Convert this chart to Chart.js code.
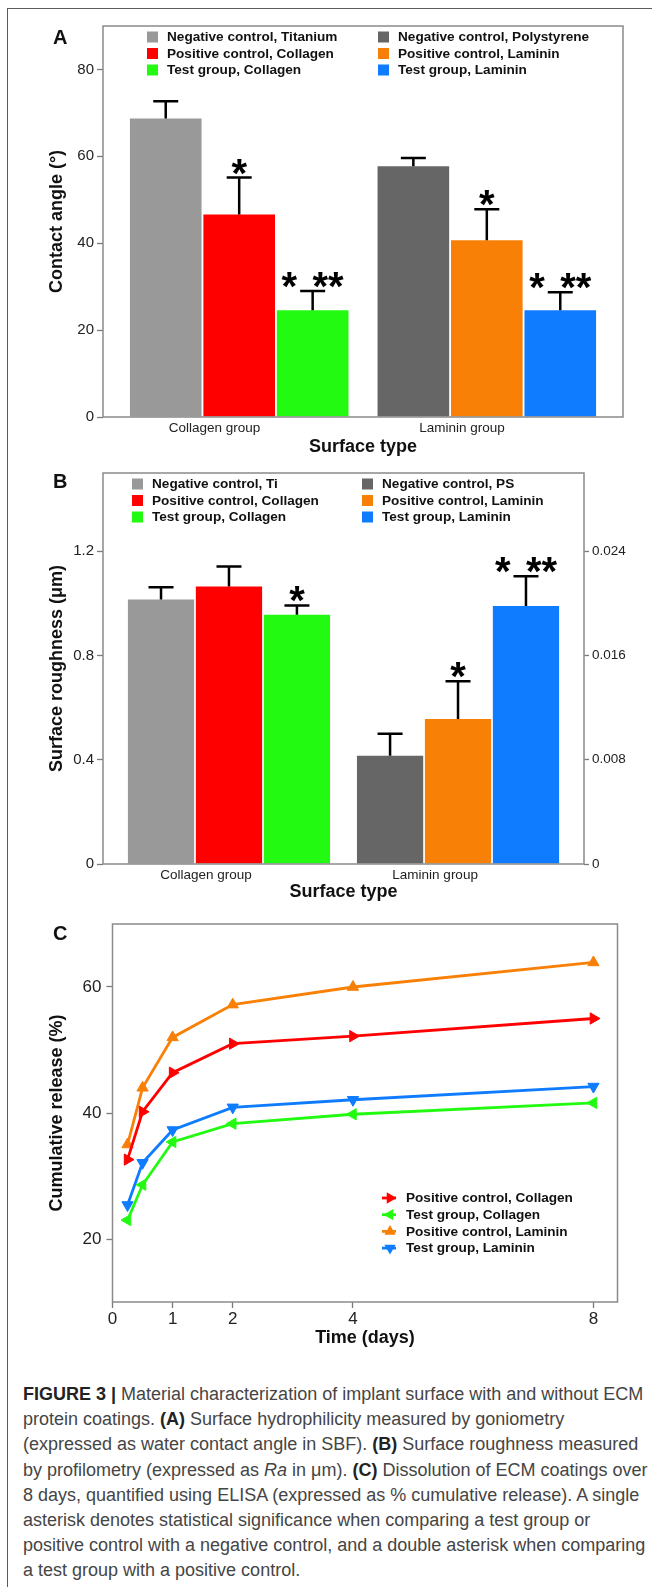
<!DOCTYPE html>
<html>
<head>
<meta charset="utf-8">
<title>Figure 3</title>
<script src="https://cdn.jsdelivr.net/npm/chart.js@4.4.1/dist/chart.umd.min.js"></script>
<style>
  html, body { margin: 0; padding: 0; background: #fff; }
  #figure { position: relative; width: 652px; height: 1587px; overflow: hidden; font-family: 'Liberation Sans', Arial, sans-serif; }
  .frame { position: absolute; left: 7px; top: 8px; width: 660px; height: 1600px; border-top: 1.6px solid #5c5c5c; border-left: 1.6px solid #5c5c5c; }
  .panel { position: absolute; left: 0; width: 652px; }
  .letter { position: absolute; font-weight: bold; font-size: 20px; line-height: 20px; color: #111; }
  .caption { position: absolute; left: 23px; top: 1382px; font-size: 18px; line-height: 25.2px; color: #454545; white-space: nowrap; }
  .caption b { color: #222; }
</style>
</head>
<body>
<div id="figure">
  <div class="frame"></div>
  <div class="panel" style="top:0;height:460px"><canvas id="chart-a" width="652" height="460"></canvas></div>
  <div class="panel" style="top:455px;height:450px"><canvas id="chart-b" width="652" height="450"></canvas></div>
  <div class="panel" style="top:905px;height:450px"><canvas id="chart-c" width="652" height="450"></canvas></div>
  <div class="letter" style="left:53px;top:27px">A</div>
  <div class="letter" style="left:53px;top:471px">B</div>
  <div class="letter" style="left:53px;top:923px">C</div>
  <div class="caption"><b>FIGURE 3 |</b> Material characterization of implant surface with and without ECM<br>protein coatings. <b>(A)</b> Surface hydrophilicity measured by goniometry<br>(expressed as water contact angle in SBF). <b>(B)</b> Surface roughness measured<br>by profilometry (expressed as <i>Ra</i> in μm). <b>(C)</b> Dissolution of ECM coatings over<br>8 days, quantified using ELISA (expressed as % cumulative release). A single<br>asterisk denotes statistical significance when comparing a test group or<br>positive control with a negative control, and a double asterisk when comparing<br>a test group with a positive control.</div>
</div>

<script>
'use strict'

// ---- datos comunes (paneles A y B) ----
var groups = ['Collagen group', 'Laminin group']

var colorsNeg = ['#999999', '#666666']
var colorsPos = ['#ff0000', '#f98007']
var colorsTest = ['#22fb11', '#0f7cff']

// ---- panel A: ángulo de contacto ----
var legendA = [
  ['Negative control, Titanium', 'Negative control, Polystyrene'],
  ['Positive control, Collagen', 'Positive control, Laminin'],
  ['Test group, Collagen', 'Test group, Laminin']
]
var angleTicks = [0, 20, 40, 60, 80]
var angleNeg = [68.7, 57.7]
var angleNegErr = [4.0, 1.9]
var anglePos = [46.6, 40.7]
var anglePosErr = [8.5, 7.1]
var angleTest = [24.6, 24.6]
var angleTestErr = [4.4, 4.1]
var angleStars = [['', ''], ['*', '*'], ['* **', '* **']]

// ---- panel B: rugosidad ----
var legendB = [
  ['Negative control, Ti', 'Negative control, PS'],
  ['Positive control, Collagen', 'Positive control, Laminin'],
  ['Test group, Collagen', 'Test group, Laminin']
]
var roughTicks = [0, 0.4, 0.8, 1.2]
var roughRightTicks = [0, 0.008, 0.016, 0.024]
var roughNeg = [1.015, 0.415]
var roughNegErr = [0.047, 0.085]
var roughPos = [1.065, 0.556]
var roughPosErr = [0.076, 0.145]
var roughTest = [0.956, 0.99]
var roughTestErr = [0.036, 0.114]
var roughStars = [['', ''], ['', '*'], ['*', '* **']]

// ---- panel C: liberación acumulada ----
var days = [0.25, 0.5, 1, 2, 4, 8]
var dayTicks = [0, 1, 2, 4, 8]
var releaseTicks = [20, 40, 60]
var releasePosCol = [32.6, 40.2, 46.4, 51.0, 52.2, 55.0]
var releaseTestCol = [23.0, 28.6, 35.4, 38.3, 39.8, 41.6]
var releasePosLam = [35.0, 44.0, 52.0, 57.2, 60.0, 63.9]
var releaseTestLam = [25.4, 32.1, 37.3, 40.9, 42.1, 44.2]

var FONT = "'Liberation Sans', Arial, sans-serif"
Chart.defaults.font.family = FONT
Chart.defaults.color = '#222'

function toPoints (xs, ys) {
  return ys.map(function (y, i) { return { x: xs[i], y: y } })
}
function tickList (values) {
  return function (axis) { axis.ticks = values.map(function (v) { return { value: v } }) }
}
function plainNumber (digits) {
  return function (v) { return v === 0 ? '0' : v.toFixed(digits) }
}

// Marco gris alrededor del área de trazado
var plotFrame = {
  id: 'plotFrame',
  afterDatasetsDraw: function (chart) {
    var a = chart.chartArea
    var ctx = chart.ctx
    ctx.save()
    ctx.strokeStyle = '#8a8a8a'
    ctx.lineWidth = 1.5
    ctx.strokeRect(a.left, a.top, a.right - a.left, a.bottom - a.top)
    ctx.restore()
  }
}

// Barras de error (solo hacia arriba) y asteriscos
function errorBars (errs, stars) {
  return {
    id: 'errorBars',
    afterDatasetsDraw: function (chart) {
      var ctx = chart.ctx
      ctx.save()
      chart.data.datasets.forEach(function (ds, d) {
        var meta = chart.getDatasetMeta(d)
        var yScale = chart.scales[meta.yAxisID]
        meta.data.forEach(function (bar, i) {
          var v = ds.data[i].y
          var top = yScale.getPixelForValue(v + errs[d][i])
          var base = yScale.getPixelForValue(v)
          ctx.strokeStyle = '#000'
          ctx.lineWidth = 2.5
          ctx.beginPath()
          ctx.moveTo(bar.x, base)
          ctx.lineTo(bar.x, top)
          ctx.moveTo(bar.x - 12.5, top)
          ctx.lineTo(bar.x + 12.5, top)
          ctx.stroke()

          var s = stars[d][i]
          if (!s) return
          ctx.font = 'bold 40px ' + FONT
          ctx.fillStyle = '#000'
          ctx.textAlign = 'center'
          ctx.textBaseline = 'alphabetic'
          var m = ctx.measureText('*')
          var cy = top - 11 + (m.actualBoundingBoxAscent - m.actualBoundingBoxDescent) / 2
          var step = 15.5
          var x0 = bar.x - (s.length * step) / 2 + step / 2
          for (var k = 0; k < s.length; k++) {
            if (s[k] === '*') ctx.fillText('*', x0 + k * step, cy)
          }
        })
      })
      ctx.restore()
    }
  }
}

// Leyenda de dos columnas dentro del área
function boxLegend (labels, colors, pos) {
  return {
    id: 'boxLegend',
    afterDraw: function (chart) {
      var ctx = chart.ctx
      var a = chart.chartArea
      ctx.save()
      ctx.font = 'bold 13.6px ' + FONT
      ctx.textBaseline = 'middle'
      ctx.textAlign = 'left'
      labels.forEach(function (row, r) {
        row.forEach(function (text, c) {
          var x = a.left + pos.cols[c]
          var y = a.top + pos.y0 + r * pos.dy
          ctx.fillStyle = colors[r][c]
          ctx.fillRect(x, y - 5.5, 11, 11)
          ctx.fillStyle = '#111'
          ctx.fillText(text, x + 20, y + 0.5)
        })
      })
      ctx.restore()
    }
  }
}

function triangle (ctx, x, y, r, rotation) {
  var rad = rotation * Math.PI / 180
  ctx.beginPath()
  for (var k = 0; k < 3; k++) {
    var px = x + Math.sin(rad) * r
    var py = y - Math.cos(rad) * r
    if (k === 0) ctx.moveTo(px, py); else ctx.lineTo(px, py)
    rad += 2 * Math.PI / 3
  }
  ctx.closePath()
  ctx.fill()
}

var lineLegend = {
  id: 'lineLegend',
  afterDraw: function (chart) {
    var ctx = chart.ctx
    ctx.save()
    ctx.font = 'bold 13.6px ' + FONT
    ctx.textBaseline = 'middle'
    chart.data.datasets.forEach(function (ds, i) {
      var y = 293 + i * 16.7
      var x = 389
      ctx.strokeStyle = ds.borderColor
      ctx.fillStyle = ds.borderColor
      ctx.lineWidth = 2.8
      ctx.beginPath()
      ctx.moveTo(x - 7, y)
      ctx.lineTo(x + 7, y)
      ctx.stroke()
      triangle(ctx, x + 1, y, 6.5, ds.pointRotation)
      ctx.fillStyle = '#111'
      ctx.fillText(ds.label, 406, y + 0.5)
    })
    ctx.restore()
  }
}

function barDataset (name, values, colors) {
  return {
    label: name,
    data: toPoints([0, 1], values),
    backgroundColor: colors,
    borderWidth: 0,
    categoryPercentage: 0.89,
    barPercentage: 0.975
  }
}

function categoryAxis (height) {
  return {
    type: 'linear',
    min: -0.55,
    max: 1.55,
    offset: false,
    afterBuildTicks: tickList([-0.1, 0.9]),
    afterFit: function (axis) { axis.height = height },
    grid: { display: false, drawTicks: false },
    border: { display: false },
    ticks: {
      padding: 3,
      autoSkip: false,
      maxRotation: 0,
      font: { size: 13.5 },
      callback: function (v, i) { return groups[i] }
    },
    title: { display: true, text: 'Surface type', font: { size: 18, weight: 'bold' }, color: '#111', padding: 0 }
  }
}

function leftAxis (title, min, max, ticks, fmt, width) {
  return {
    min: min,
    max: max,
    afterBuildTicks: tickList(ticks),
    afterFit: function (axis) { axis.width = width },
    grid: { drawOnChartArea: false, drawTicks: true, tickLength: 6, tickColor: '#7a7a7a', tickWidth: 1.3 },
    border: { display: false },
    ticks: { padding: 3, font: { size: 15 }, callback: fmt },
    title: { display: true, text: title, font: { size: 18, weight: 'bold' }, color: '#111', padding: 0 }
  }
}

// ---- Gráfico A ----
new Chart(document.getElementById('chart-a'), {
  type: 'bar',
  data: {
    datasets: [
      barDataset('Negative control', angleNeg, colorsNeg),
      barDataset('Positive control', anglePos, colorsPos),
      barDataset('Test group', angleTest, colorsTest)
    ]
  },
  options: {
    responsive: false,
    animation: false,
    devicePixelRatio: 1,
    layout: { padding: { left: 46, top: 26, right: 29, bottom: 2 } },
    plugins: { legend: { display: false }, tooltip: { enabled: false } },
    scales: {
      x: categoryAxis(41),
      y: leftAxis('Contact angle (°)', 0, 90, angleTicks, function (v) { return String(v) }, 57)
    }
  },
  plugins: [plotFrame,
    errorBars([angleNegErr, anglePosErr, angleTestErr], angleStars),
    boxLegend(legendA, [colorsNeg, colorsPos, colorsTest], { cols: [44, 275], y0: 11, dy: 16.5 })]
})

// ---- Gráfico B ----
new Chart(document.getElementById('chart-b'), {
  type: 'bar',
  data: {
    datasets: [
      barDataset('Negative control', roughNeg, colorsNeg),
      barDataset('Positive control', roughPos, colorsPos),
      barDataset('Test group', roughTest, colorsTest)
    ]
  },
  options: {
    responsive: false,
    animation: false,
    devicePixelRatio: 1,
    layout: { padding: { left: 46, top: 18, right: 20, bottom: 2.2 } },
    plugins: { legend: { display: false }, tooltip: { enabled: false } },
    scales: {
      x: categoryAxis(38.8),
      y: leftAxis('Surface roughness (μm)', 0, 1.5, roughTicks, plainNumber(1), 57),
      y2: {
        position: 'right',
        min: 0,
        max: 0.03,
        afterBuildTicks: tickList(roughRightTicks),
        afterFit: function (axis) { axis.width = 48 },
        grid: { drawOnChartArea: false, drawTicks: true, tickLength: 5, tickColor: '#7a7a7a', tickWidth: 1.3 },
        border: { display: false },
        ticks: { padding: 3, font: { size: 13.5 }, callback: plainNumber(3) }
      }
    }
  },
  plugins: [plotFrame,
    errorBars([roughNegErr, roughPosErr, roughTestErr], roughStars),
    boxLegend(legendB, [colorsNeg, colorsPos, colorsTest], { cols: [29, 259], y0: 11, dy: 16.5 })]
})

// ---- Gráfico C ----
function releaseLine (name, values, color, rotation) {
  return {
    label: name,
    data: toPoints(days, values),
    borderColor: color,
    backgroundColor: color,
    borderWidth: 2.8,
    tension: 0,
    pointStyle: 'triangle',
    pointRotation: rotation,
    pointRadius: 6.5,
    pointBorderWidth: 1,
    pointBackgroundColor: color,
    pointBorderColor: color
  }
}

new Chart(document.getElementById('chart-c'), {
  type: 'line',
  data: {
    datasets: [
      releaseLine('Positive control, Collagen', releasePosCol, '#ff0000', 90),
      releaseLine('Test group, Collagen', releaseTestCol, '#22fb11', -90),
      releaseLine('Positive control, Laminin', releasePosLam, '#f98007', 0),
      releaseLine('Test group, Laminin', releaseTestLam, '#0f7cff', 180)
    ]
  },
  options: {
    responsive: false,
    animation: false,
    devicePixelRatio: 1,
    layout: { padding: { left: 46, top: 19, right: 34.5, bottom: 6.2 } },
    plugins: { legend: { display: false }, tooltip: { enabled: false } },
    scales: {
      x: {
        type: 'linear',
        min: 0,
        max: 8.4,
        afterBuildTicks: tickList(dayTicks),
        afterFit: function (axis) { axis.height = 46.8 },
        grid: { drawOnChartArea: false, drawTicks: true, tickLength: 6, tickColor: '#7a7a7a', tickWidth: 1.3 },
        border: { display: false },
        ticks: { padding: 1, font: { size: 17 }, callback: function (v) { return String(v) } },
        title: { display: true, text: 'Time (days)', font: { size: 18, weight: 'bold' }, color: '#111', padding: 0 }
      },
      y: {
        min: 10,
        max: 70,
        afterBuildTicks: tickList(releaseTicks),
        afterFit: function (axis) { axis.width = 66.5 },
        grid: { drawOnChartArea: false, drawTicks: true, tickLength: 6, tickColor: '#7a7a7a', tickWidth: 1.3 },
        border: { display: false },
        ticks: { padding: 5, font: { size: 17 }, callback: function (v) { return String(v) } },
        title: { display: true, text: 'Cumulative release (%)', font: { size: 18, weight: 'bold' }, color: '#111', padding: 0 }
      }
    }
  },
  plugins: [plotFrame, lineLegend]
})
</script>
</body>
</html>
